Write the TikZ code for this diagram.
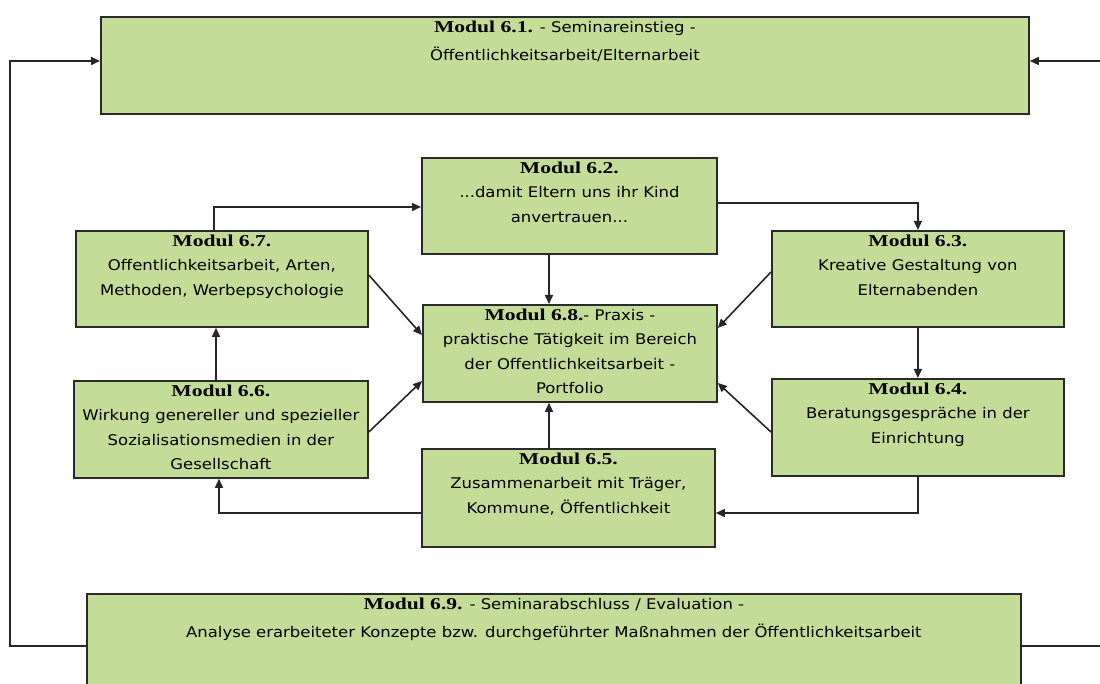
\documentclass[tikz,border=0pt]{standalone}
\usepackage{fontspec}
\usetikzlibrary{arrows.meta,calc}
\newfontfamily\bodyf[FakeStretch=1.12]{DejaVu Sans}
\newfontfamily\titlef[FakeStretch=1.3]{Liberation Serif}
\definecolor{boxgreen}{HTML}{C3DD98}
\definecolor{boxline}{HTML}{2A2A2A}
\newcommand{\Mtitle}[1]{{\titlef\bfseries\fontsize{16.6}{24.5}\selectfont Modul #1}}
\tikzset{
  modbox/.style={draw=boxline, line width=1.8, fill=boxgreen, rectangle, inner sep=0, anchor=north west},
  modtxt/.style={anchor=north, align=center, inner sep=0, font=\bodyf\fontsize{14.7}{24.5}\selectfont},
  arr/.style={-{Triangle[length=9,width=8]}, line width=1.6, draw=black!85},
  plain/.style={line width=1.6, draw=black!85}
}
\begin{document}
\begin{tikzpicture}[x=1pt,y=-1pt]
\useasboundingbox (0,0) rectangle (1100,684);
% boxes
\node[modbox, minimum width=928, minimum height=97] (m1) at (100,16) {};
\node[modbox, minimum width=295, minimum height=96] (m2) at (421,157) {};
\node[modbox, minimum width=292, minimum height=96] (m7) at (75,230) {};
\node[modbox, minimum width=292, minimum height=96] (m3) at (771,230) {};
\node[modbox, minimum width=294, minimum height=97] (m8) at (422,304) {};
\node[modbox, minimum width=294, minimum height=97] (m6) at (73,380) {};
\node[modbox, minimum width=292, minimum height=97] (m4) at (771,378) {};
\node[modbox, minimum width=293, minimum height=98] (m5) at (421,448) {};
\node[modbox, minimum width=934, minimum height=110] (m9) at (86,593) {};
% texts
\node[modtxt] (t1) at ($(m1.north)+(0,4.5)$) {\Mtitle{6.1.} - Seminareinstieg -\\[4pt] Öffentlichkeitsarbeit/Elternarbeit};
\node[modtxt] (t2) at ($(m2.north)+(0,4.5)$) {\Mtitle{6.2.}\\ ...damit Eltern uns ihr Kind\\ anvertrauen...};
\node[modtxt] (t7) at ($(m7.north)+(0,4.5)$) {\Mtitle{6.7.}\\ Offentlichkeitsarbeit, Arten,\\ Methoden, Werbepsychologie};
\node[modtxt] (t3) at ($(m3.north)+(0,4.5)$) {\Mtitle{6.3.}\\ Kreative Gestaltung von\\ Elternabenden};
\node[modtxt] (t8) at ($(m8.north)+(0,4.5)$) {\Mtitle{6.8.}- Praxis -\\ praktische Tätigkeit im Bereich\\ der Offentlichkeitsarbeit -\\ Portfolio};
\node[modtxt] (t6) at ($(m6.north)+(0,4.5)$) {\Mtitle{6.6.}\\ Wirkung genereller und spezieller\\ Sozialisationsmedien in der\\ Gesellschaft};
\node[modtxt] (t4) at ($(m4.north)+(0,4.5)$) {\Mtitle{6.4.}\\ Beratungsgespräche in der\\ Einrichtung};
\node[modtxt] (t5) at ($(m5.north)+(0,4.5)$) {\Mtitle{6.5.}\\ Zusammenarbeit mit Träger,\\ Kommune, Öffentlichkeit};
\node[modtxt] (t9) at ($(m9.north)+(0,4.5)$) {\Mtitle{6.9.} - Seminarabschluss / Evaluation -\\[4pt] Analyse erarbeiteter Konzepte bzw. durchgeführter Maßnahmen der Öffentlichkeitsarbeit};
% connectors
\draw[arr] (m7.north -| 214,0) |- (m2.west |- 0,207);
\draw[arr] (m2.east |- 0,203) -| (m3.north);
\draw[arr] (m2.south -| 549,0) -- (m8.north -| 549,0);
\draw[arr] (m3.south) -- (m4.north);
\draw[arr] (m4.south) |- (m5.east |- 0,513);
\draw[arr] (m5.west |- 0,513) -| (m6.south -| 219,0);
\draw[arr] (m6.north -| 216,0) -- (m7.south -| 216,0);
\draw[arr] (m5.north -| 549,0) -- (m8.south -| 549,0);
\draw[arr] (m7.east |- 0,275) -- (m8.west |- 0,335);
\draw[arr] (m6.east |- 0,432) -- (m8.west |- 0,381);
\draw[arr] (m3.west |- 0,272) -- (m8.east |- 0,328);
\draw[arr] (m4.west |- 0,432) -- (m8.east |- 0,383);
\coordinate (r1) at (1100,61);
\draw[arr] (r1) -- (m1.east |- r1);
\coordinate (r9) at (1100,646);
\draw[plain] (m9.east |- r9) -- (r9);
\coordinate (l9) at (10,646);
\draw[arr] (m9.west |- l9) -- (l9) |- (m1.west |- 0,61);
\end{tikzpicture}
\end{document}
